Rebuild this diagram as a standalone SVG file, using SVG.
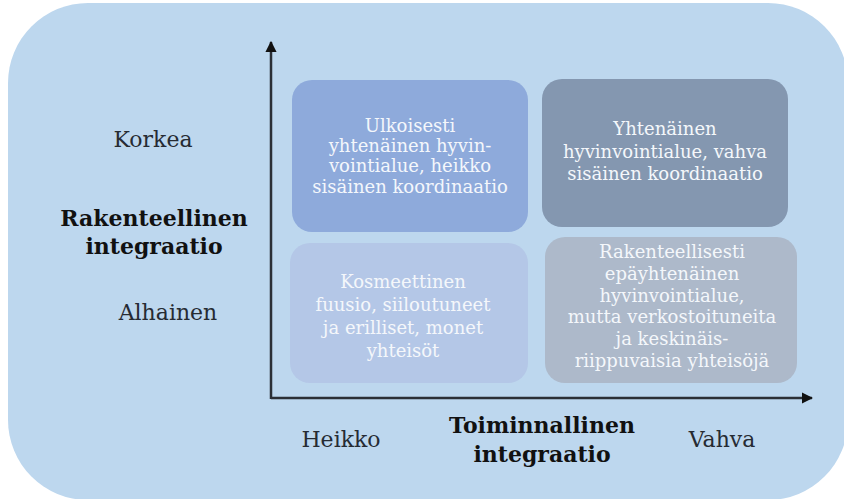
<svg xmlns="http://www.w3.org/2000/svg" width="844" height="499" viewBox="0 0 844 499">
<defs>
<style>
.bg{fill:#bdd7ee}
.box{stroke:none}
.bt{font-family:"DejaVu Serif","Liberation Serif",serif;font-size:18px;fill:#f4f7fb;text-anchor:middle}
.lb{font-family:"DejaVu Serif","Liberation Serif",serif;font-size:22px;fill:#262b33;text-anchor:middle}
.bold{font-family:"DejaVu Serif","Liberation Serif",serif;font-size:22px;font-weight:bold;fill:#111;text-anchor:middle}
.axis{stroke:#2b2f36;stroke-width:2.5;fill:none}
</style>
<marker id="ah" viewBox="0 0 10 10" refX="9" refY="5" markerWidth="4.5" markerHeight="4.5" orient="auto" markerUnits="strokeWidth">
<path d="M0,0 L10,5 L0,10 z" fill="#111"/>
</marker>
</defs>
<rect class="bg" x="8" y="3" width="840" height="497" rx="80" ry="80"/>
<g id="connectors">
<line class="axis" x1="271" y1="399" x2="271" y2="42" marker-end="url(#ah)"/>
<line class="axis" x1="271" y1="398" x2="812" y2="398" marker-end="url(#ah)"/>
</g>
<g id="box1">
<rect class="box" x="292" y="80" width="236" height="152" rx="20" fill="#8eaadb"/>
<text class="bt" x="410" y="132">Ulkoisesti</text>
<text class="bt" x="410" y="152">yhtenäinen hyvin-</text>
<text class="bt" x="410" y="172">vointialue, heikko</text>
<text class="bt" x="410" y="193">sisäinen koordinaatio</text>
</g>
<g id="box2">
<rect class="box" x="542" y="79" width="246" height="148" rx="20" fill="#8497b0"/>
<text class="bt" x="665" y="135">Yhtenäinen</text>
<text class="bt" x="665" y="158">hyvinvointialue, vahva</text>
<text class="bt" x="665" y="180">sisäinen koordinaatio</text>
</g>
<g id="box3">
<rect class="box" x="290" y="243" width="238" height="140" rx="20" fill="#b4c7e7"/>
<text class="bt" x="403" y="288">Kosmeettinen</text>
<text class="bt" x="403" y="311">fuusio, siiloutuneet</text>
<text class="bt" x="403" y="334">ja erilliset, monet</text>
<text class="bt" x="403" y="357">yhteisöt</text>
</g>
<g id="box4">
<rect class="box" x="545" y="237" width="252" height="146" rx="20" fill="#adb9ca"/>
<text class="bt" x="672" y="258">Rakenteellisesti</text>
<text class="bt" x="672" y="280">epäyhtenäinen</text>
<text class="bt" x="672" y="302">hyvinvointialue,</text>
<text class="bt" x="672" y="323">mutta verkostoituneita</text>
<text class="bt" x="672" y="345">ja keskinäis-</text>
<text class="bt" x="672" y="367">riippuvaisia yhteisöjä</text>
</g>
<g id="labels">
<text class="lb" x="153" y="147">Korkea</text>
<text class="bold" x="154" y="226">Rakenteellinen</text>
<text class="bold" x="154" y="254">integraatio</text>
<text class="lb" x="168" y="320">Alhainen</text>
<text class="lb" x="341" y="447">Heikko</text>
<text class="bold" x="542" y="433">Toiminnallinen</text>
<text class="bold" x="542" y="462">integraatio</text>
<text class="lb" x="722" y="447">Vahva</text>
</g>
</svg>
